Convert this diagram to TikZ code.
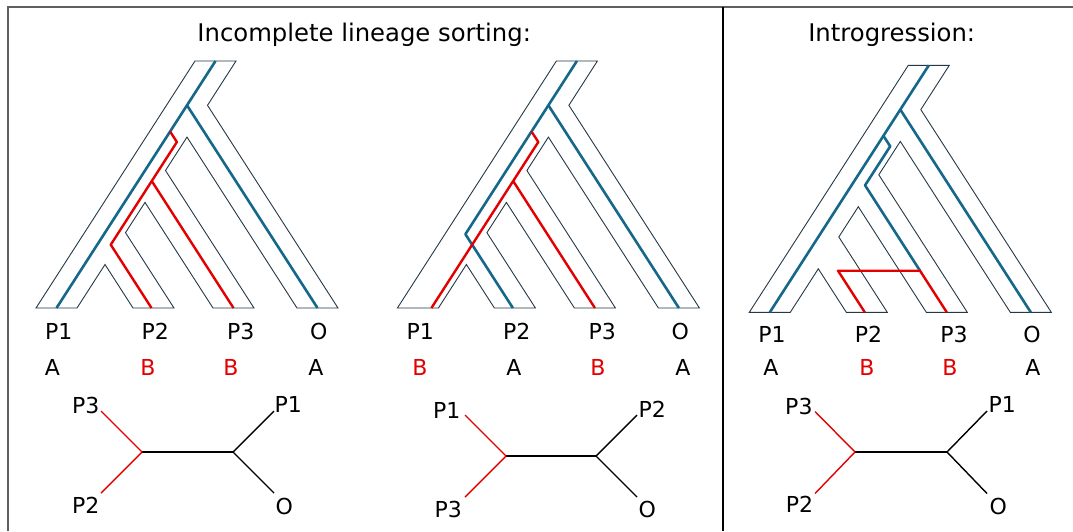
\documentclass[tikz,border=0pt]{standalone}
\usepackage{fontspec}
\setmainfont{DejaVu Sans}
\definecolor{outl}{RGB}{38,56,70}
\definecolor{gblue}{RGB}{22,104,138}
\definecolor{gred}{RGB}{226,0,0}
\definecolor{framegray}{RGB}{95,95,95}
\tikzset{
  treeoutl/.style={draw=outl, line width=0.9pt, line join=miter},
  blueline/.style={draw=gblue, line width=2.6pt, line join=round},
  redline/.style={draw=gred, line width=2.4pt, line join=round},
  lbl/.style={inner sep=0pt, font=\fontsize{22}{26}\selectfont, anchor=base},
  redlbl/.style={lbl, text=gred},
  ttl/.style={inner sep=0pt, font=\fontsize{24.3}{29}\selectfont, anchor=base},
  ulbl/.style={inner sep=0pt, font=\fontsize{22}{26}\selectfont},
  ublack/.style={draw=black, line width=1.4pt},
  ured/.style={draw=gred, line width=1.4pt},
}
\begin{document}
\begin{tikzpicture}[x=1pt,y=-1pt]
\useasboundingbox (0,0) rectangle (1073,531);
\fill[white] (0,0) rectangle (1073,531);

% frame
\draw[framegray, line width=1.3pt] (8,531) -- (8,7) -- (1073,7);
\draw[black, line width=1.5pt] (723,7) -- (723,531);

% titles
\node[ttl] (t1) at (364.2,41.7) {Incomplete lineage sorting:};
\node[ttl] (t2) at (891.7,41.7) {Introgression:};

% tree outlines
\foreach \sx/\sy in {36/308, 397.4/308, 749.3/312.3} {
  \begin{scope}[shift={(\sx,\sy)}, yscale=-1]
    \draw[treeoutl] (0,0) -- (41,0) -- (69,43.5) -- (97,0) -- (138,0) -- (89.5,75.35)
      -- (109,105.6) -- (177,0) -- (218,0) -- (129.5,137.5) -- (151,170.9)
      -- (261,0) -- (302,0) -- (171.5,202.7) -- (200,247) -- (159,247) -- cycle;
  \end{scope}
}

% tree 1
\begin{scope}[shift={(36,308)}, yscale=-1]
  \draw[blueline] (20.5,0) -- (179.5,247);
  \draw[blueline] (151,202.7) -- (281.5,0);
  \draw[redline] (134.1,176.5) -- (140.9,166) -- (74.75,63.3) -- (115.5,0);
  \draw[redline] (115.75,127) -- (197.5,0);
\end{scope}

% tree 2
\begin{scope}[shift={(397.4,308)}, yscale=-1]
  \draw[blueline] (179.5,247) -- (68,73.8) -- (115.5,0);
  \draw[blueline] (151,202.7) -- (281.5,0);
  \draw[redline] (134.1,176.5) -- (140.9,166) -- (34,0);
  \draw[redline] (115.75,127) -- (197.5,0);
\end{scope}

% tree 3
\begin{scope}[shift={(749.3,312.3)}, yscale=-1]
  \draw[blueline] (20.5,0) -- (179.5,247);
  \draw[blueline] (151,202.7) -- (281.5,0);
  \draw[blueline] (134.1,176.5) -- (140.9,166) -- (115.75,127) -- (170.7,41.6);
  \draw[redline] (115.5,0) -- (88.7,41.6) -- (170.7,41.6) -- (197.5,0);
\end{scope}

% leaf labels tree 1
\node[lbl] (a1) at (58.8,339) {P1};
\node[lbl] (a2) at (155.3,339) {P2};
\node[lbl] (a3) at (240.8,339) {P3};
\node[lbl] (a4) at (318.8,339) {O};
\node[lbl] (b1) at (52.5,375) {A};
\node[redlbl] (b2) at (148,375) {B};
\node[redlbl] (b3) at (231,375) {B};
\node[lbl] (b4) at (316,375) {A};
% leaf labels tree 2
\node[lbl] (c1) at (420.3,339) {P1};
\node[lbl] (c2) at (516.8,339) {P2};
\node[lbl] (c3) at (602.3,339) {P3};
\node[lbl] (c4) at (680.3,339) {O};
\node[redlbl] (d1) at (420,375) {B};
\node[lbl] (d2) at (514,375) {A};
\node[redlbl] (d3) at (598,375) {B};
\node[lbl] (d4) at (683,375) {A};
% leaf labels tree 3
\node[lbl] (e1) at (772,342) {P1};
\node[lbl] (e2) at (868.6,342) {P2};
\node[lbl] (e3) at (954,342) {P3};
\node[lbl] (e4) at (1032,342) {O};
\node[lbl] (f1) at (771,375) {A};
\node[redlbl] (f2) at (867,375) {B};
\node[redlbl] (f3) at (950,375) {B};
\node[lbl] (f4) at (1033,375) {A};

% unrooted tree 1
\coordinate (u1L) at (142,452);
\coordinate (u1R) at (233,452);
\coordinate (u1a) at (101,411);
\coordinate (u1b) at (101,493);
\coordinate (u1c) at (274,411);
\coordinate (u1d) at (274,493);
\draw[ublack] (u1L) -- (u1R);
\draw[ured] (u1L) -- (u1a);
\draw[ured] (u1L) -- (u1b);
\draw[ublack] (u1R) -- (u1c);
\draw[ublack] (u1R) -- (u1d);
\node[ulbl, anchor=base east] (u1p3) at (99.5,413) {P3};
\node[ulbl, anchor=base east] (u1p2) at (99.5,513) {P2};
\node[ulbl, anchor=base west] (u1p1) at (274.5,412) {P1};
\node[ulbl, anchor=base west] (u1o) at (275.5,514.5) {O};

% unrooted tree 2
\coordinate (u2L) at (506,456);
\coordinate (u2R) at (596,456);
\coordinate (u2a) at (465,415);
\coordinate (u2b) at (465,497);
\coordinate (u2c) at (637,415);
\coordinate (u2d) at (637,497);
\draw[ublack] (u2L) -- (u2R);
\draw[ured] (u2L) -- (u2a);
\draw[ured] (u2L) -- (u2b);
\draw[ublack] (u2R) -- (u2c);
\draw[ublack] (u2R) -- (u2d);
\node[ulbl, anchor=base east] (u2p1) at (460.5,418) {P1};
\node[ulbl, anchor=base east] (u2p3) at (462,517) {P3};
\node[ulbl, anchor=base west] (u2p2) at (638.5,417) {P2};
\node[ulbl, anchor=base west] (u2o) at (638.5,517) {O};

% unrooted tree 3
\coordinate (u3L) at (855,452);
\coordinate (u3R) at (947,452);
\coordinate (u3a) at (815,411.5);
\coordinate (u3b) at (815,493.5);
\coordinate (u3c) at (987,411);
\coordinate (u3d) at (987,493.5);
\draw[ublack] (u3L) -- (u3R);
\draw[ured] (u3L) -- (u3a);
\draw[ured] (u3L) -- (u3b);
\draw[ublack] (u3R) -- (u3c);
\draw[ublack] (u3R) -- (u3d);
\node[ulbl, anchor=base east] (u3p3) at (812.7,414) {P3};
\node[ulbl, anchor=base east] (u3p2) at (813.3,512.3) {P2};
\node[ulbl, anchor=base west] (u3p1) at (988.3,412.3) {P1};
\node[ulbl, anchor=base west] (u3o) at (989.3,514.3) {O};
\end{tikzpicture}
\end{document}
